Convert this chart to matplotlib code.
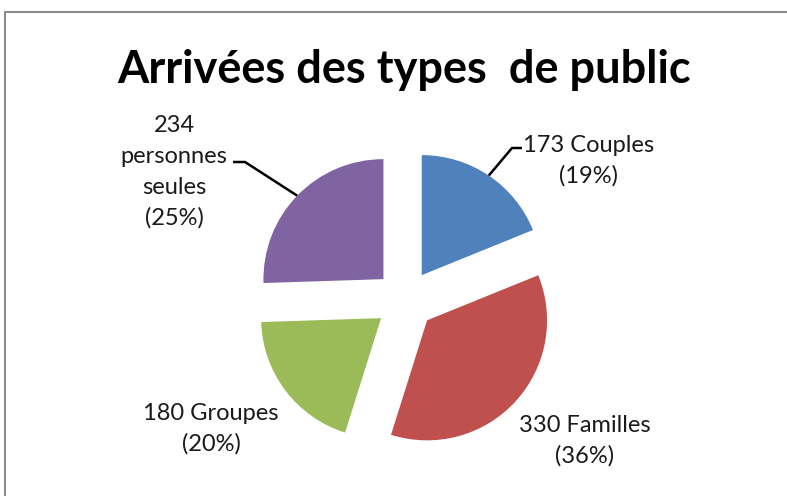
import matplotlib
matplotlib.use("Agg")
import matplotlib.pyplot as plt
from matplotlib.patches import Rectangle
import numpy as np

# données
categories = ["Couples", "Familles", "Groupes", "personnes seules"]
values = [173, 330, 180, 234]
percents = [19, 36, 20, 25]
colors = ["#4F81BD", "#C0504D", "#9BBB59", "#8064A2"]

W, H = 787, 496
CX, CY, R = 405, 300, 120  # centre et rayon du camembert en pixels

plt.rcParams["font.family"] = ["Lato", "DejaVu Sans"]

fig = plt.figure(figsize=(W / 100, H / 100), dpi=100)
ax = fig.add_axes([0, 0, 1, 1])
ax.axis("off")


def px(x, y):
    # pixels -> coordonnées du camembert (rayon 1)
    return (x - CX) / R, (CY - y) / R


wedges, _ = ax.pie(values, colors=colors, startangle=90, counterclock=False,
                   explode=[0.25] * 4, radius=1,
                   wedgeprops=dict(linewidth=0))
ax.set_aspect("auto")
ax.set_xlim(px(0, 0)[0], px(W, 0)[0])
ax.set_ylim(px(0, H)[1], px(0, 0)[1])

# étiquettes : (centre x, première ligne de base, coude du trait, bout)
label_pos = {
    "Couples": (589, 152, (512, 148), (522, 148)),
    "Familles": (585, 432, None, None),
    "Groupes": (211, 420, None, None),
    "personnes seules": (174, 132, (245, 162), (233, 162)),
}
txt_color = "#1a1a1a"
step = 31

for w, name, v, p in zip(wedges, categories, values, percents):
    if " " in name:
        lines = [str(v)] + name.split(" ") + [f"({p}%)"]
    else:
        lines = [f"{v} {name}", f"({p}%)"]
    x0, y0, elbow, end = label_pos[name]
    for i, line in enumerate(lines):
        tx, ty = px(x0, y0 + i * step)
        ax.text(tx, ty, line, ha="center", va="baseline", fontsize=17,
                color=txt_color)
    if elbow is not None:
        mid = np.deg2rad((w.theta1 + w.theta2) / 2)
        cx, cy = w.center
        sx, sy = cx + w.r * np.cos(mid), cy + w.r * np.sin(mid)
        ex, ey = px(*elbow)
        fx, fy = px(*end)
        ax.plot([sx, ex, fx], [sy, ey, fy], color="black", lw=1.8,
                solid_capstyle="butt")

fig.text(404 / W, 1 - 83 / H, "Arrivées des types  de public",
         ha="center", va="baseline", fontsize=32.5, fontweight="bold",
         color="black")

# cadre du graphique
fig.patches.append(Rectangle((5 / W, -0.2), 1.5, 1.2 - 12 / H,
                             transform=fig.transFigure, fill=False,
                             edgecolor="#8c8c8c", linewidth=1.5))

fig.savefig("out.png", dpi=100)
